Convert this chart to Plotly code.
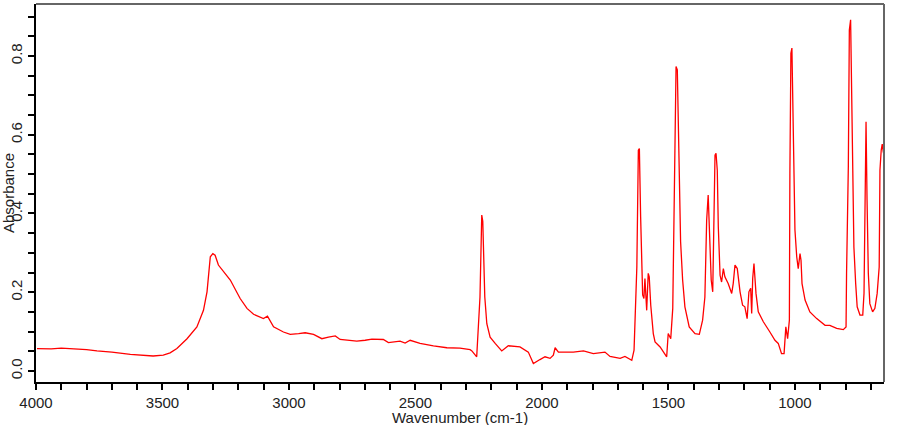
import plotly.graph_objects as go

# Wavenumber (cm-1) and absorbance
wavenumber = [
    3996, 3940, 3900, 3853, 3800, 3759, 3700, 3627, 3580, 3537, 3497, 3470, 3443, 3403, 3364, 3338, 3324,
    3311, 3301, 3292, 3279, 3232, 3193, 3166, 3140, 3101, 3085, 3061, 3022, 2995, 2962, 2936, 2903, 2870,
    2844, 2817, 2798, 2732, 2699, 2672, 2627, 2607, 2561, 2541, 2521, 2482, 2429, 2376, 2324, 2284, 2277,
    2258, 2245, 2238, 2234, 2226, 2218, 2205, 2185, 2159, 2133, 2087, 2054, 2034, 2008, 1988, 1968, 1955, 1948,
    1935, 1876, 1836, 1797, 1757, 1751, 1731, 1691, 1672, 1645, 1636, 1625, 1619, 1615, 1610, 1606, 1602,
    1597, 1593, 1586, 1580, 1576, 1570, 1560, 1553, 1533, 1514, 1507, 1501, 1491, 1483, 1478, 1470, 1465,
    1461, 1457, 1452, 1444, 1435, 1418, 1395, 1378, 1365, 1356, 1349, 1343, 1336, 1331, 1325, 1320, 1316,
    1312, 1307, 1303, 1296, 1290, 1283, 1277, 1264, 1250, 1244, 1237, 1228, 1217, 1207, 1198, 1189, 1182,
    1175, 1171, 1167, 1162, 1154, 1145, 1125, 1099, 1079, 1066, 1053, 1043, 1036, 1029, 1022, 1020, 1016,
    1012, 1008, 1004, 1000, 993, 987, 980, 976, 972, 960, 941, 914, 881, 862, 835, 809, 798, 796, 789,
    785, 780, 776, 772, 767, 760, 754, 743, 732, 727, 723, 719, 715, 710, 704, 693, 684, 675, 667, 664,
    659, 655, 651, 648,
]
absorbance = [
    0.057, 0.056, 0.058, 0.057, 0.054, 0.051, 0.048, 0.042, 0.040, 0.038, 0.040, 0.046, 0.057, 0.082, 0.112, 0.154, 0.201,
    0.290, 0.298, 0.294, 0.269, 0.231, 0.184, 0.159, 0.144, 0.133, 0.139, 0.112, 0.099, 0.093, 0.095, 0.097, 0.093, 0.082,
    0.086, 0.089, 0.080, 0.076, 0.078, 0.081, 0.080, 0.072, 0.076, 0.071, 0.078, 0.070, 0.064, 0.059, 0.058, 0.054, 0.051,
    0.036, 0.188, 0.396, 0.380, 0.188, 0.120, 0.086, 0.070, 0.051, 0.064, 0.061, 0.048, 0.019, 0.029, 0.036, 0.032, 0.040, 0.059,
    0.048, 0.048, 0.051, 0.044, 0.048, 0.048, 0.037, 0.032, 0.037, 0.027, 0.053, 0.264, 0.561, 0.565, 0.392, 0.286, 0.193,
    0.184, 0.235, 0.154, 0.248, 0.239, 0.167, 0.095, 0.074, 0.061, 0.040, 0.036, 0.095, 0.082, 0.159, 0.358, 0.773, 0.765,
    0.646, 0.455, 0.328, 0.231, 0.163, 0.112, 0.095, 0.093, 0.129, 0.188, 0.383, 0.447, 0.341, 0.231, 0.201, 0.362, 0.548,
    0.553, 0.510, 0.366, 0.243, 0.226, 0.260, 0.239, 0.222, 0.197, 0.222, 0.269, 0.260, 0.201, 0.167, 0.163, 0.133, 0.201,
    0.210, 0.146, 0.235, 0.273, 0.197, 0.150, 0.125, 0.099, 0.078, 0.070, 0.044, 0.044, 0.112, 0.082, 0.129, 0.502, 0.807,
    0.820, 0.620, 0.434, 0.358, 0.290, 0.260, 0.298, 0.281, 0.222, 0.180, 0.150, 0.133, 0.116, 0.116, 0.108, 0.105, 0.112, 0.248,
    0.519, 0.866, 0.892, 0.714, 0.417, 0.315, 0.222, 0.163, 0.142, 0.142, 0.197, 0.527, 0.633, 0.434, 0.248, 0.171, 0.150, 0.159,
    0.197, 0.264, 0.510, 0.561, 0.576, 0.557, 0.548,
]

x_range = [4000, 648]
y_range = [-0.028, 0.932]
x_ticks = [4000, 3500, 3000, 2500, 2000, 1500, 1000]
y_ticks = [0.0, 0.2, 0.4, 0.6, 0.8]
x_title = "Wavenumber (cm-1)"
y_title = "Absorbance"

FONT = "Arial, 'Liberation Sans', sans-serif"

fig = go.Figure()
fig.add_trace(go.Scatter(
    x=wavenumber, y=absorbance, mode="lines",
    line=dict(color="#ff0000", width=1.3), showlegend=False, hoverinfo="x+y",
))

fig.update_layout(
    width=910, height=425,
    margin=dict(l=36, r=26, t=4, b=43, pad=0),
    paper_bgcolor="white", plot_bgcolor="white",
    font=dict(family=FONT, size=15, color="#222222"),
    xaxis=dict(
        range=x_range, tickvals=x_ticks, ticks="outside", ticklen=6, tickwidth=1.5,
        tickcolor="black", showline=True, linecolor="black", linewidth=1.5,
        showgrid=False, zeroline=False, automargin=False,
        minor=dict(dtick=100, tick0=4000, ticks="outside", ticklen=6, tickwidth=1.5,
                   tickcolor="black", showgrid=False),
        tickfont=dict(size=15),
    ),
    yaxis=dict(
        range=y_range, tickvals=y_ticks, tickformat=".1f", tickangle=-90,
        ticks="outside", ticklen=6, tickwidth=1.5, tickcolor="black",
        showline=True, linecolor="black", linewidth=1.5,
        showgrid=False, zeroline=False, automargin=False,
        minor=dict(dtick=0.05, tick0=0, ticks="outside", ticklen=6, tickwidth=1.5,
                   tickcolor="black", showgrid=False),
        title=dict(text=y_title, font=dict(size=15), standoff=0),
        tickfont=dict(size=15),
    ),
    annotations=[
        dict(text=x_title, xref="paper", yref="paper", x=0.5, y=-0.0952,
             xanchor="center", yanchor="middle", showarrow=False,
             font=dict(size=15, family=FONT, color="#222222")),
    ],
    shapes=[
        dict(type="line", xref="paper", yref="paper", x0=0, x1=1, y0=1, y1=1,
             line=dict(color="#666666", width=2)),
        dict(type="line", xref="paper", yref="paper", x0=1, x1=1, y0=0, y1=1,
             line=dict(color="#666666", width=2)),
    ],
)

fig.write_html("out.html")
